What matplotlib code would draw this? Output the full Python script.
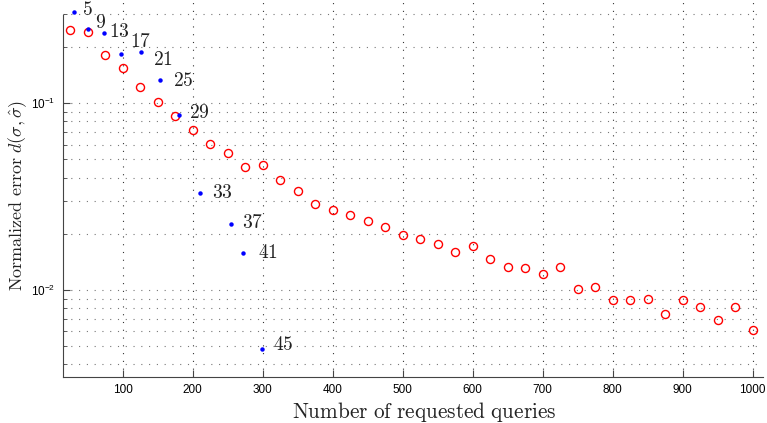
import numpy as np
import matplotlib
matplotlib.use("Agg")
import matplotlib.pyplot as plt

plt.rcParams['font.family'] = ['Liberation Sans', 'DejaVu Sans']
plt.rcParams['mathtext.fontset'] = 'cm'

# red circles: error vs number of requested queries
queries = np.arange(25, 1001, 25)
error = [0.247, 0.241, 0.181, 0.154, 0.122, 0.1016, 0.0855, 0.0720,
         0.0605, 0.0540, 0.0454, 0.0466, 0.0387, 0.0340, 0.0290, 0.0268,
         0.0252, 0.0234, 0.0217, 0.0196, 0.0188, 0.0176, 0.0160, 0.0173,
         0.0146, 0.0133, 0.0131, 0.0122, 0.0132, 0.0101, 0.0104, 0.00881,
         0.00887, 0.00898, 0.00741, 0.00881, 0.00814, 0.00694, 0.00811,
         0.00608]

# blue dots with their labels
blue_x = [30, 50, 73, 98, 126, 153, 180, 210, 255, 272, 299]
blue_y = [0.308, 0.250, 0.238, 0.184, 0.188, 0.133, 0.0866, 0.0331,
          0.0226, 0.0158, 0.00483]
blue_labels = ['5', '9', '13', '17', '21', '25', '29', '33', '37', '41', '45']
# label offsets in pixels (dx, dy)
label_offsets = [(8, 2), (7, 6), (5, 1), (9, 12), (12, -8), (13, -1),
                 (10, 2), (12, 0), (11, 1), (15, 0), (11, 4)]

fig = plt.figure(figsize=(7.67, 4.23), dpi=100)
ax = fig.add_axes([0.0817, 0.108, 0.9131, 0.892])

ax.plot(queries, error, 'o', mfc='none', mec='red', ms=5.8, mew=1.0,
        clip_on=False, zorder=3)
ax.plot(blue_x, blue_y, 'o', color='blue', ms=3.2, mew=0, clip_on=False,
        zorder=4)
for x, y, lab, (dx, dy) in zip(blue_x, blue_y, blue_labels, label_offsets):
    ax.annotate('$' + lab + '$', (x, y), xytext=(dx, dy),
                textcoords='offset pixels', ha='left', va='center',
                fontsize=14, color='#222222')

ax.set_yscale('log')
ax.set_xlim(14.3, 1014.7)
ax.set_ylim(0.003406, 0.357)
ax.set_xticks(range(100, 1001, 100))

for side in ['top', 'right']:
    ax.spines[side].set_visible(False)
ax.spines['left'].set_bounds(0.003406, 0.297)
ax.spines['left'].set_color('#444444')
ax.spines['bottom'].set_color('#444444')

ax.tick_params(which='both', direction='in', labelsize=8.5, colors='#444444',
               labelcolor='black')
ax.tick_params(which='major', length=5, pad=5)
ax.tick_params(which='minor', length=3)
ax.tick_params(axis='x', which='minor', bottom=False)

ax.grid(True, which='major', axis='x', color='#333333', linestyle=(0, (1, 6)),
        linewidth=0.8)
ax.grid(True, which='both', axis='y', color='#777777', linestyle=(0, (1, 6)),
        linewidth=0.8)
ax.set_axisbelow(True)

ax.set_xlabel(r'$\mathrm{Number\ of\ requested\ queries}$', fontsize=15.3,
              color='#222222')
ax.set_ylabel(r'$\mathrm{Normalized\ error}\ d(\sigma,\hat{\sigma})$',
              fontsize=13, color='#222222')
ax.xaxis.set_label_coords((424 - 62.7) / 700.3, -(400 - 377.3) / 377.3)
ax.yaxis.set_label_coords(-(62.7 - 29) / 700.3, (377.3 - 196) / 377.3)

fig.savefig('out.png', dpi=100)
